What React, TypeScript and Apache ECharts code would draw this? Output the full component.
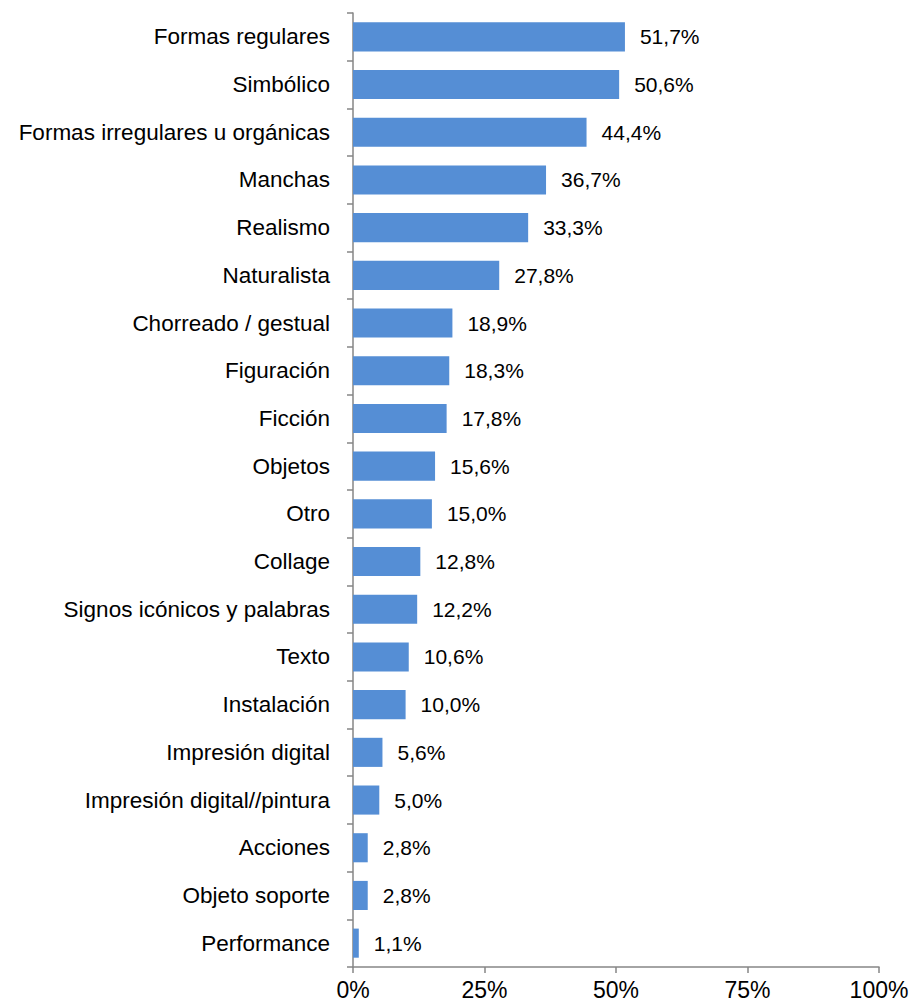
import React, { useEffect, useRef } from "react";
import * as echarts from "echarts";

const categories = [
  "Formas regulares",
  "Simbólico",
  "Formas irregulares u orgánicas",
  "Manchas",
  "Realismo",
  "Naturalista",
  "Chorreado / gestual",
  "Figuración",
  "Ficción",
  "Objetos",
  "Otro",
  "Collage",
  "Signos icónicos y palabras",
  "Texto",
  "Instalación",
  "Impresión digital",
  "Impresión digital//pintura",
  "Acciones",
  "Objeto soporte",
  "Performance",
];

const values = [51.7, 50.6, 44.4, 36.7, 33.3, 27.8, 18.9, 18.3, 17.8, 15.6, 15.0, 12.8, 12.2, 10.6, 10.0, 5.6, 5.0, 2.8, 2.8, 1.1];

const xTicks = [0, 25, 50, 75, 100];

const FONT = "'Liberation Sans Narrow', 'Arial Narrow', 'Liberation Sans', Arial, sans-serif";

export default function App() {
  const ref = useRef<HTMLDivElement>(null);
  useEffect(() => {
    if (!ref.current) return;
    const chart = echarts.init(ref.current, null, { renderer: "svg" });
    chart.setOption({
      animation: false,
      grid: { left: 353, right: 36, top: 13, bottom: 39, containLabel: false },
      xAxis: {
        type: "value",
        min: xTicks[0],
        max: xTicks[xTicks.length - 1],
        interval: 25,
        splitLine: { show: false },
        axisLine: { show: true, lineStyle: { color: "#868686", width: 1.5 } },
        axisTick: { show: true, length: 6, lineStyle: { color: "#868686", width: 1.5 } },
        axisLabel: {
          formatter: (v: number) => `${v}%`,
          color: "#000",
          fontFamily: FONT,
          fontSize: 23,
          margin: 11,
        },
      },
      yAxis: {
        type: "category",
        data: categories,
        inverse: true,
        axisLine: { show: true, lineStyle: { color: "#868686", width: 1.5 } },
        axisTick: { show: true, length: 6, alignWithLabel: false, lineStyle: { color: "#868686", width: 1.5 } },
        axisLabel: {
          color: "#000",
          fontFamily: FONT,
          fontSize: 22.5,
          margin: 23,
        },
      },
      series: [
        {
          type: "bar",
          data: values,
          barWidth: "61%",
          itemStyle: { color: "#558ED5" },
          label: {
            show: true,
            position: "right",
            distance: 15,
            color: "#000",
            fontFamily: FONT,
            fontSize: 21,
            formatter: (p: any) => `${p.value.toFixed(1).replace(".", ",")}%`,
          },
        },
      ],
    });
    return () => chart.dispose();
  }, []);
  return (
    <div
      ref={ref}
      style={{ position: "fixed", left: 0, top: 0, width: 915, height: 1006, background: "#fff" }}
    />
  );
}
